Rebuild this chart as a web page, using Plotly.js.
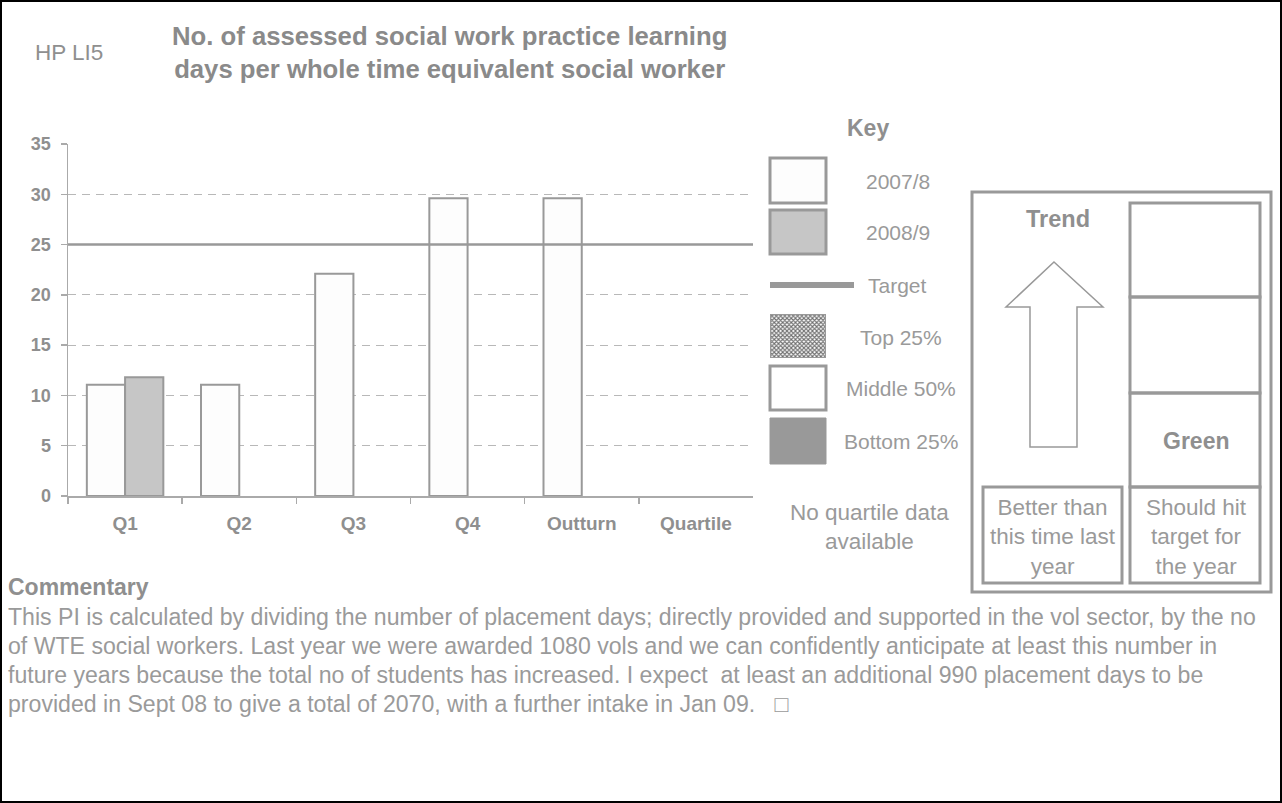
<!DOCTYPE html>
<html>
<head>
<meta charset="utf-8">
<script src="https://cdn.plot.ly/plotly-3.0.1.min.js"></script>
<style>
html,body{margin:0;padding:0;background:#fff;}
#wrap{position:relative;width:1282px;height:803px;overflow:hidden;}
#chart{position:absolute;left:0;top:0;width:1282px;height:803px;}
#frame{position:absolute;left:0;top:0;width:1282px;height:803px;box-sizing:border-box;border:2px solid #000;pointer-events:none;}
</style>
</head>
<body>
<div id="wrap"><div id="chart"></div><div id="frame"></div></div>
<script>
// ---- data ----
const categories = ['Q1', 'Q2', 'Q3', 'Q4', 'Outturn', 'Quartile'];
const series2007 = [11.05, 11.05, 22.1, 29.6, 29.6, null];
const series2008 = [11.8, null, null, null, null, null];
const targetValue = 25;
const yTicks = [0, 5, 10, 15, 20, 25, 30, 35];
const keyLabels = ['2007/8', '2008/9', 'Target', 'Top 25%', 'Middle 50%', 'Bottom 25%'];
const keySwatchValue = [1];
const titleText = 'No. of assessed social work practice learning<br>days per whole time equivalent social worker';
const codeText = 'HP LI5';
const noQuartileText = 'No quartile data<br>available';
const trendLabel = 'Trend';
const statusLabel = 'Green';
const trendCaption = 'Better than<br>this time last<br>year';
const statusCaption = 'Should hit<br>target for<br>the year';
const commentaryTitle = 'Commentary';
const commentaryLines = [
  'This PI is calculated by dividing the number of placement days; directly provided and supported in the vol sector, by the no',
  'of WTE social workers. Last year we were awarded 1080 vols and we can confidently anticipate at least this number in',
  'future years because the total no of students has increased. I expect\u00a0 at least an additional 990 placement days to be',
  'provided in Sept 08 to give a total of 2070, with a further intake in Jan 09.\u00a0\u00a0 \u25A1'
];

// ---- helpers (pixel -> paper) ----
const W = 1282, H = 803;
const X = p => p / W;
const Y = p => 1 - p / H;
const FONT = 'Liberation Sans, Arial, Helvetica, sans-serif';
const GREY = '#999999';
const TXT = '#8f8f8f';
const TXT2 = '#9a9a9a';

function ann(x, y, text, size, opts) {
  opts = opts || {};
  return Object.assign({
    xref: 'paper', yref: 'paper', x: X(x), y: Y(y), text: text, showarrow: false,
    xanchor: 'center', yanchor: 'middle', align: 'center',
    font: {family: FONT, size: size, color: opts.color || TXT, weight: opts.bold ? 'bold' : 'normal'}
  }, opts.extra || {});
}
function rect(x0, y0, x1, y1, fill, lc, lw) {
  return {type: 'rect', xref: 'paper', yref: 'paper', x0: X(x0), x1: X(x1), y0: Y(y0), y1: Y(y1),
    fillcolor: fill, line: {color: lc, width: lw}, layer: 'above'};
}

const traces = [
  {type: 'bar', name: '2007/8', x: categories, y: series2007, xaxis: 'x', yaxis: 'y',
   marker: {color: '#fdfdfd', line: {color: GREY, width: 2}}, hoverinfo: 'x+y+name'},
  {type: 'bar', name: '2008/9', x: categories, y: series2008, xaxis: 'x', yaxis: 'y',
   marker: {color: '#c6c6c6', line: {color: GREY, width: 2}}, hoverinfo: 'x+y+name'},
  // key swatch for Top 25% (checkered)
  {type: 'bar', name: keyLabels[3], x: [0], y: keySwatchValue, width: [1], xaxis: 'x2', yaxis: 'y2',
   marker: {color: '#ffffff', line: {color: GREY, width: 2},
            pattern: {shape: 'x', size: 3, solidity: 0.6, fgcolor: '#707070', bgcolor: '#ffffff', fillmode: 'replace'}},
   hoverinfo: 'skip'}
];

const annotations = [
  ann(69, 52, codeText, 22.5),
  ann(449, 52, titleText, 25.7, {bold: true, color: '#8a8a8a'}),
  ann(868, 128, 'Key', 23, {bold: true}),
  ann(898, 181, keyLabels[0], 21, {color: TXT2}),
  ann(898, 232, keyLabels[1], 21, {color: TXT2}),
  ann(897, 285, keyLabels[2], 21, {color: TXT2}),
  ann(901, 337, keyLabels[3], 21, {color: TXT2}),
  ann(901, 389, keyLabels[4], 21, {color: TXT2}),
  ann(901, 441, keyLabels[5], 21, {color: TXT2}),
  ann(869, 527, noQuartileText, 22.5, {color: TXT2}),
  ann(1058, 219, trendLabel, 23.5, {bold: true}),
  ann(1196, 441, statusLabel, 23, {bold: true}),
  ann(1053, 537, trendCaption, 22.5, {color: TXT2}),
  ann(1196, 537, statusCaption, 22.5, {color: TXT2}),
  ann(6, 587, commentaryTitle, 23, {bold: true, extra: {xanchor: 'left', align: 'left'}})
];
commentaryLines.forEach((line, i) => {
  annotations.push(ann(6, 617 + i * 29, line, 23.1, {color: TXT2, extra: {xanchor: 'left', align: 'left'}}));
});

const arrowPts = [[1054, 262], [1103, 307], [1077, 307], [1077, 447], [1030, 447], [1030, 307], [1006, 307]];
const arrowPath = 'M ' + arrowPts.map(p => X(p[0]).toFixed(5) + ' ' + Y(p[1]).toFixed(5)).join(' L ') + ' Z';

const shapes = [
  // target line in the chart
  {type: 'line', xref: 'paper', yref: 'y', x0: X(68), x1: X(753), y0: targetValue, y1: targetValue,
   line: {color: GREY, width: 2.5}, layer: 'above'},
  // key swatches
  rect(770, 158, 826, 203, '#fdfdfd', GREY, 3),
  rect(770, 210, 826, 254, '#c6c6c6', GREY, 3),
  {type: 'line', xref: 'paper', yref: 'paper', x0: X(770), x1: X(854), y0: Y(285), y1: Y(285),
   line: {color: GREY, width: 6}, layer: 'above'},
  rect(770, 366, 826, 410, '#ffffff', GREY, 3),
  rect(770, 418, 826, 464, '#999999', '#999999', 1),
  // trend panel
  rect(972, 192, 1271, 592, 'rgba(0,0,0,0)', GREY, 3),
  rect(1130, 203, 1260, 297, 'rgba(0,0,0,0)', GREY, 3),
  rect(1130, 297, 1260, 393, 'rgba(0,0,0,0)', GREY, 3),
  rect(1130, 393, 1260, 487, 'rgba(0,0,0,0)', GREY, 3),
  rect(1130, 487, 1260, 583, 'rgba(0,0,0,0)', GREY, 3),
  rect(983, 487, 1122, 583, 'rgba(0,0,0,0)', GREY, 3),
  {type: 'path', xref: 'paper', yref: 'paper', path: arrowPath, fillcolor: '#ffffff',
   line: {color: GREY, width: 1.5}, layer: 'above'}
];

const layout = {
  width: W, height: H,
  margin: {l: 0, r: 0, t: 0, b: 0, pad: 0},
  paper_bgcolor: '#ffffff', plot_bgcolor: '#ffffff',
  showlegend: false,
  barmode: 'group', bargap: 0.33, bargroupgap: 0,
  font: {family: FONT, color: TXT},
  xaxis: {
    domain: [X(68), X(753)], type: 'category', categoryorder: 'array', categoryarray: categories,
    tickson: 'boundaries', ticks: 'outside', ticklen: 6, tickcolor: '#aaaaaa', tickwidth: 1.5,
    showline: true, linecolor: '#aaaaaa', linewidth: 1.5, showgrid: false, zeroline: false,
    tickfont: {family: FONT, size: 19, color: TXT, weight: 'bold'}, ticklabelstandoff: 10,
    automargin: false, fixedrange: true
  },
  yaxis: {
    domain: [Y(496), Y(144)], range: [0, 35], tickmode: 'array', tickvals: yTicks,
    ticks: 'outside', ticklen: 6, tickcolor: '#aaaaaa', tickwidth: 1.5,
    showline: true, linecolor: '#aaaaaa', linewidth: 1.5,
    showgrid: true, gridcolor: '#b8b8b8', gridwidth: 1, griddash: '8px,6px', zeroline: false,
    tickfont: {family: FONT, size: 18, color: TXT, weight: 'bold'}, ticklabelstandoff: 6,
    automargin: false, fixedrange: true
  },
  xaxis2: {domain: [X(770), X(826)], range: [-0.5, 0.5], anchor: 'y2', visible: false, fixedrange: true},
  yaxis2: {domain: [Y(358), Y(314)], range: [0, 1], anchor: 'x2', visible: false, fixedrange: true},
  annotations: annotations,
  shapes: shapes
};

Plotly.newPlot('chart', traces, layout, {displayModeBar: false, staticPlot: true});
</script>
</body>
</html>
